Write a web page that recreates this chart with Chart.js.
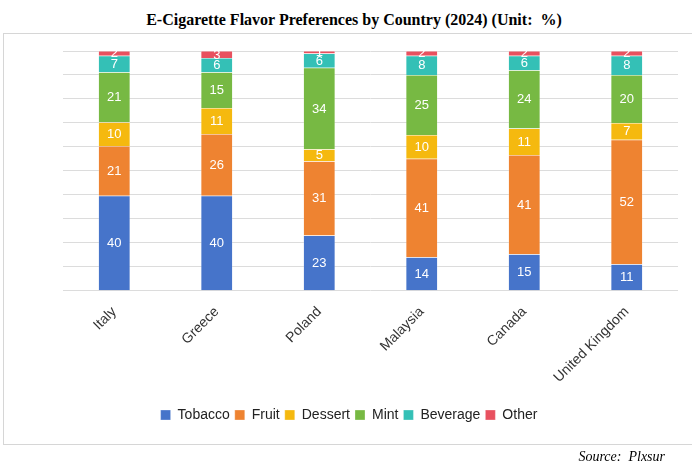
<!DOCTYPE html>
<html>
<head>
<meta charset="utf-8">
<script src="https://cdn.jsdelivr.net/npm/chart.js@4.4.1/dist/chart.umd.min.js"></script>
<style>
    body{ margin:0; background:#fff; }
    #wrap{ position:relative; width:692px; height:470px; overflow:hidden; }
    #title{
        position:absolute; left:8px; top:11px; width:692px; text-align:center;
        font:bold 16px "Liberation Serif", "Times New Roman", serif; color:#000;
    }
    #box{
        position:absolute; left:3px; top:33px; width:700px; height:412px;
        border:1px solid #d6d6d6; box-sizing:border-box;
    }
    #source{
        position:absolute; right:27px; top:449px;
        font:italic 14px "Liberation Serif", "Times New Roman", serif; color:#000;
        white-space:pre;
    }
    canvas{ position:absolute; left:0; top:0; }
</style>
</head>
<body>
<div id="wrap">
    <div id="title">E-Cigarette Flavor Preferences by Country (2024) (Unit:&nbsp; %)</div>
    <div id="box"></div>
    <canvas id="flavorChart" width="692" height="470"></canvas>
    <div id="source">Source:  Plxsur</div>
</div>

<script>
/* =====================================
   DATA
===================================== */

const countries = ["Italy", "Greece", "Poland", "Malaysia", "Canada", "United Kingdom"];

const tobacco  = [40, 40, 23, 14, 15, 11];
const fruit    = [21, 26, 31, 41, 41, 52];
const dessert  = [10, 11,  5, 10, 11,  7];
const mint     = [21, 15, 34, 25, 24, 20];
const beverage = [ 7,  6,  6,  8,  6,  8];
const other    = [ 2,  3,  1,  2,  2,  2];

const yTicks = [0, 10, 20, 30, 40, 50, 60, 70, 80, 90, 100];

/* =====================================
   100% STACK HELPERS
===================================== */

const allSeries = [tobacco, fruit, dessert, mint, beverage, other];

const totals = countries.map((c, i) =>
    allSeries.reduce((sum, s) => sum + s[i], 0)
);

function share(values){
    return values.map((v, i) => v / totals[i] * 100);
}

function makeSet(label, values, color){
    return {
        label: label,
        data: share(values),
        raw: values,
        backgroundColor: color,
        borderColor: "rgba(255,255,255,0.6)",
        borderWidth: 0.5,
        barPercentage: 0.31,
        categoryPercentage: 1
    };
}

/* =====================================
   SEGMENT LABELS
===================================== */

const segmentLabels = {
    id: "segmentLabels",
    afterDatasetsDraw(chart){
        const ctx = chart.ctx;
        ctx.save();
        ctx.font = '13px "Liberation Sans", Arial, sans-serif';
        ctx.fillStyle = "#ffffff";
        ctx.textAlign = "center";
        ctx.textBaseline = "middle";
        chart.data.datasets.forEach((ds, d) => {
            const meta = chart.getDatasetMeta(d);
            meta.data.forEach((bar, i) => {
                const mid = (bar.y + bar.base) / 2;
                ctx.fillText(String(ds.raw[i]), bar.x, mid + 0.5);
            });
        });
        ctx.restore();
    }
};

/* =====================================
   CHART
===================================== */

new Chart(document.getElementById("flavorChart"), {
    type: "bar",
    data: {
        labels: countries,
        datasets: [
            makeSet("Tobacco",  tobacco,  "#4674CA"),
            makeSet("Fruit",    fruit,    "#EE8331"),
            makeSet("Dessert",  dessert,  "#F5B90F"),
            makeSet("Mint",     mint,     "#77B943"),
            makeSet("Beverage", beverage, "#34C0B6"),
            makeSet("Other",    other,    "#E8515F")
        ]
    },
    options: {
        responsive: false,
        animation: false,
        layout: {
            padding: { left: 20, right: 14, top: 51, bottom: 38 }
        },
        scales: {
            x: {
                stacked: true,
                grid: { display: false },
                border: { display: false },
                afterFit(axis){
                    axis.height = axis.height + 12;
                },
                ticks: {
                    minRotation: 45,
                    maxRotation: 45,
                    padding: 5,
                    color: "#333333",
                    font: { family: '"Liberation Sans", Arial, sans-serif', size: 14 }
                }
            },
            y: {
                stacked: true,
                min: 0,
                max: 100,
                afterBuildTicks(axis){
                    axis.ticks = yTicks.map(v => ({ value: v }));
                },
                afterFit(axis){
                    axis.width = 43;
                },
                ticks: { display: false },
                grid: { color: "#dcdcdc", lineWidth: 1, drawTicks: false },
                border: { display: false }
            }
        },
        plugins: {
            legend: {
                position: "bottom",
                labels: {
                    boxWidth: 10,
                    boxHeight: 10,
                    padding: 5,
                    color: "#222222",
                    font: { family: '"Liberation Sans", Arial, sans-serif', size: 14 }
                }
            },
            tooltip: { enabled: false }
        }
    },
    plugins: [segmentLabels]
});
</script>
</body>
</html>
